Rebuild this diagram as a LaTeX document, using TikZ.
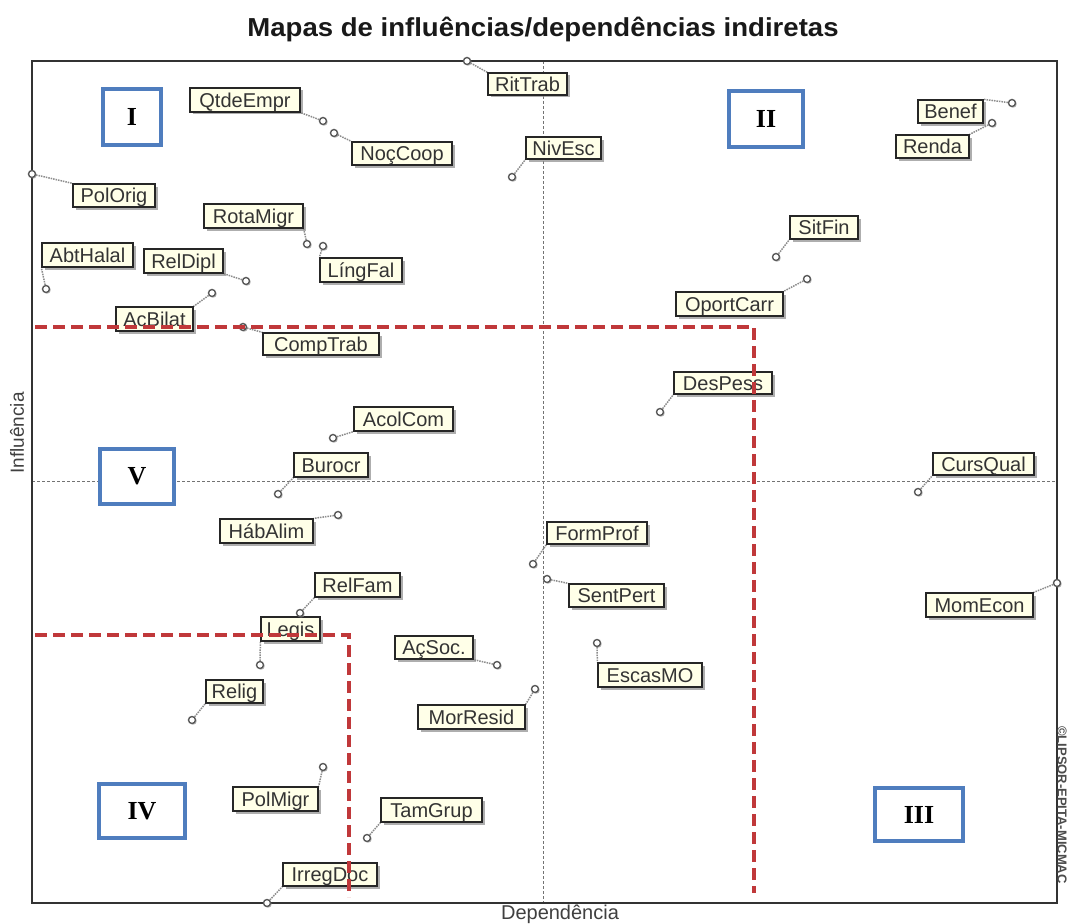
\documentclass[tikz,border=0pt]{standalone}
\usepackage{fontspec}
\setmainfont{Liberation Sans}
\newfontfamily\romfont{Liberation Serif}
\usetikzlibrary{shadows}
\definecolor{cream}{RGB}{255,255,232}
\definecolor{qblue}{RGB}{79,125,190}
\definecolor{qred}{RGB}{192,56,58}
\pgfdeclarelayer{bg}
\pgfsetlayers{bg,main}
\tikzset{
  lbl/.style={draw=black!85, line width=1.3pt, fill=cream, inner sep=0pt,
    minimum height=24pt, text=black!80, font=\fontsize{20}{20}\selectfont,
    text height=16.5pt, text depth=2pt,
    drop shadow={shadow xshift=2.5pt, shadow yshift=-2.5pt, fill=black!45, opacity=0.7}},
  pt/.style={circle, draw=black!65, line width=1.4pt, fill=white, minimum size=7pt, inner sep=0pt,
    drop shadow={shadow xshift=1.2pt, shadow yshift=-1.2pt, fill=black!45, opacity=0.6}},
  conn/.style={draw=black!45, densely dotted, line width=1.5pt},
  quad/.style={draw=qblue, line width=4pt, fill=white, inner sep=0pt,
    font=\romfont\bfseries\fontsize{26}{26}\selectfont},
  reddash/.style={draw=qred, line width=4pt, dash pattern=on 12pt off 6pt},
  axisline/.style={draw=black!55, line width=0.8pt, dash pattern=on 3pt off 2pt}
}
\begin{document}
\begin{tikzpicture}[x=1pt,y=-1pt]
\useasboundingbox (0,0) rectangle (1067,923);

% title and axes labels
\node[font=\bfseries\fontsize{26}{26}\selectfont, text=black!90] (title) at (543,29) {\scalebox{1.06}[1]{Mapas de influências/dependências indiretas}};
\node[font=\fontsize{20}{20}\selectfont, text=black!75] (xlab) at (560,914) {Dependência};
\node[font=\fontsize{19}{19}\selectfont, text=black!75, rotate=90] (ylab) at (17,433) {Influência};
\node[font=\bfseries\fontsize{13}{13}\selectfont, text=black!70, rotate=-90] (copy) at (1062,805) {©LIPSOR-EPITA-MICMAC};

% frame and center lines
\coordinate (fTL) at (32,61);
\coordinate (fBR) at (1057,903);
\coordinate (vT) at (543,61);
\coordinate (vB) at (543,903);
\coordinate (hL) at (32,481);
\coordinate (hR) at (1057,481);
\begin{pgfonlayer}{bg}
\fill[white] (0,0) rectangle (1067,923);
\draw[axisline] (vT) -- (vB);
\draw[axisline] (hL) -- (hR);
\draw[black!80, line width=1.5pt] (fTL) rectangle (fBR);
\end{pgfonlayer}

% quadrant boxes
\node[quad, minimum width=58pt, minimum height=56pt] (qI) at (132,117) {I};
\node[quad, minimum width=74pt, minimum height=56pt] (qII) at (766,119) {II};
\node[quad, minimum width=74pt, minimum height=55pt] (qV) at (137,476.5) {V};
\node[quad, minimum width=86pt, minimum height=54pt] (qIV) at (142,811) {IV};
\node[quad, minimum width=88pt, minimum height=53pt] (qIII) at (919,814.5) {III};

% labels
\node[lbl, minimum width=110pt] (QtdeEmpr) at (245,100) {QtdeEmpr};
\node[lbl, minimum width=100pt, minimum height=23pt] (NocCoop) at (402,153.5) {NoçCoop};
\node[lbl, minimum width=79pt, minimum height=22pt] (RitTrab) at (527.5,84) {RitTrab};
\node[lbl, minimum width=75pt, minimum height=22pt] (NivEsc) at (563.5,148) {NivEsc};
\node[lbl, minimum width=82pt, minimum height=23pt] (PolOrig) at (114,195.5) {PolOrig};
\node[lbl, minimum width=99pt] (RotaMigr) at (253.5,216) {RotaMigr};
\node[lbl, minimum width=82pt] (LingFal) at (361,270) {LíngFal};
\node[lbl, minimum width=91pt] (AbtHalal) at (87.5,255) {AbtHalal};
\node[lbl, minimum width=79pt] (RelDipl) at (183.5,261) {RelDipl};
\node[lbl, minimum width=77pt] (AcBilat) at (154.5,319) {AcBilat};
\node[lbl, minimum width=116pt, minimum height=22pt] (CompTrab) at (321,344) {CompTrab};
\node[lbl, minimum width=99pt] (AcolCom) at (403.5,419) {AcolCom};
\node[lbl, minimum width=74pt] (Burocr) at (331,465) {Burocr};
\node[lbl, minimum width=93pt] (HabAlim) at (266.5,531) {HábAlim};
\node[lbl, minimum width=85pt] (RelFam) at (357.5,585) {RelFam};
\node[lbl, minimum width=59pt] (Legis) at (290.5,629) {Legis};
\node[lbl, minimum width=57pt, minimum height=23pt] (Relig) at (234.5,691.5) {Relig};
\node[lbl, minimum width=85pt] (PolMigr) at (275.5,799) {PolMigr};
\node[lbl, minimum width=94pt, minimum height=23pt] (IrregDoc) at (330,874.5) {IrregDoc};
\node[lbl, minimum width=101pt] (TamGrup) at (431.5,810) {TamGrup};
\node[lbl, minimum width=78pt, minimum height=23pt] (AcSoc) at (434,647.5) {AçSoc.};
\node[lbl, minimum width=107pt] (MorResid) at (471.5,717) {MorResid};
\node[lbl, minimum width=100pt, minimum height=22pt] (FormProf) at (597,533) {FormProf};
\node[lbl, minimum width=95pt, minimum height=23pt] (SentPert) at (616.5,595.5) {SentPert};
\node[lbl, minimum width=104pt] (EscasMO) at (650,675) {EscasMO};
\node[lbl, minimum width=98pt, minimum height=22pt] (DesPess) at (723,383) {DesPess};
\node[lbl, minimum width=101pt, minimum height=22pt] (CursQual) at (983.5,464) {CursQual};
\node[lbl, minimum width=107pt] (MomEcon) at (979.5,605) {MomEcon};
\node[lbl, minimum width=68pt, minimum height=23pt] (SitFin) at (824,227.5) {SitFin};
\node[lbl, minimum width=107pt] (OportCarr) at (729.5,304) {OportCarr};
\node[lbl, minimum width=65pt, minimum height=23pt] (Benef) at (950.5,111.5) {Benef};
\node[lbl, minimum width=73pt, minimum height=23pt] (Renda) at (932.5,146.5) {Renda};

% points
\node[pt] (pQtdeEmpr) at (323,121) {};
\node[pt] (pNocCoop) at (334,133) {};
\node[pt] (pRitTrab) at (467,61) {};
\node[pt] (pNivEsc) at (512,177) {};
\node[pt] (pPolOrig) at (32,174) {};
\node[pt] (pRotaMigr) at (307,244) {};
\node[pt] (pLingFal) at (323,246) {};
\node[pt] (pAbtHalal) at (46,289) {};
\node[pt] (pRelDipl) at (246,281) {};
\node[pt] (pAcBilat) at (212,293) {};
\node[pt] (pCompTrab) at (243,327) {};
\node[pt] (pAcolCom) at (333,438) {};
\node[pt] (pBurocr) at (278,494) {};
\node[pt] (pHabAlim) at (338,515) {};
\node[pt] (pRelFam) at (300,613) {};
\node[pt] (pLegis) at (260,665) {};
\node[pt] (pRelig) at (192,720) {};
\node[pt] (pPolMigr) at (323,767) {};
\node[pt] (pIrregDoc) at (267,903) {};
\node[pt] (pTamGrup) at (367,838) {};
\node[pt] (pAcSoc) at (497,665) {};
\node[pt] (pMorResid) at (535,689) {};
\node[pt] (pFormProf) at (533,564) {};
\node[pt] (pSentPert) at (547,579) {};
\node[pt] (pEscasMO) at (597,643) {};
\node[pt] (pDesPess) at (660,412) {};
\node[pt] (pCursQual) at (918,492) {};
\node[pt] (pMomEcon) at (1057,583) {};
\node[pt] (pSitFin) at (776,257) {};
\node[pt] (pOportCarr) at (807,279) {};
\node[pt] (pBenef) at (1012,103) {};
\node[pt] (pRenda) at (992,123) {};

% connectors
\begin{pgfonlayer}{bg}
\draw[conn] (pQtdeEmpr) -- (QtdeEmpr.south east);
\draw[conn] (pNocCoop) -- (NocCoop.north west);
\draw[conn] (pRitTrab) -- (RitTrab.north west);
\draw[conn] (pNivEsc) -- (NivEsc.south west);
\draw[conn] (pPolOrig) -- (PolOrig.north west);
\draw[conn] (pRotaMigr) -- (RotaMigr.south east);
\draw[conn] (pLingFal) -- (LingFal.north west);
\draw[conn] (pAbtHalal) -- (AbtHalal.south west);
\draw[conn] (pRelDipl) -- (RelDipl.south east);
\draw[conn] (pAcBilat) -- (AcBilat.north east);
\draw[conn] (pCompTrab) -- (CompTrab.north west);
\draw[conn] (pAcolCom) -- (AcolCom.south west);
\draw[conn] (pBurocr) -- (Burocr.south west);
\draw[conn] (pHabAlim) -- (HabAlim.north east);
\draw[conn] (pRelFam) -- (RelFam.south west);
\draw[conn] (pLegis) -- (Legis.south west);
\draw[conn] (pRelig) -- (Relig.south west);
\draw[conn] (pPolMigr) -- (PolMigr.north east);
\draw[conn] (pIrregDoc) -- (IrregDoc.south west);
\draw[conn] (pTamGrup) -- (TamGrup.south west);
\draw[conn] (pAcSoc) -- (AcSoc.south east);
\draw[conn] (pMorResid) -- (MorResid.north east);
\draw[conn] (pFormProf) -- (FormProf.south west);
\draw[conn] (pSentPert) -- (SentPert.north west);
\draw[conn] (pEscasMO) -- (EscasMO.north west);
\draw[conn] (pDesPess) -- (DesPess.south west);
\draw[conn] (pCursQual) -- (CursQual.south west);
\draw[conn] (pMomEcon) -- (MomEcon.north east);
\draw[conn] (pSitFin) -- (SitFin.south west);
\draw[conn] (pOportCarr) -- (OportCarr.north east);
\draw[conn] (pBenef) -- (Benef.north east);
\draw[conn] (pRenda) -- (Renda.north east);
\end{pgfonlayer}

% red dashed boundaries
\coordinate (r1a) at (35,327);
\coordinate (r1b) at (754,327);
\coordinate (r1c) at (754,893);
\coordinate (r2a) at (35,635);
\coordinate (r2b) at (349,635);
\coordinate (r2c) at (349,897);
\draw[reddash] (r1a) -- (r1b) -- (r1c);
\draw[reddash] (r2a) -- (r2b) -- (r2c);
\end{tikzpicture}
\end{document}
